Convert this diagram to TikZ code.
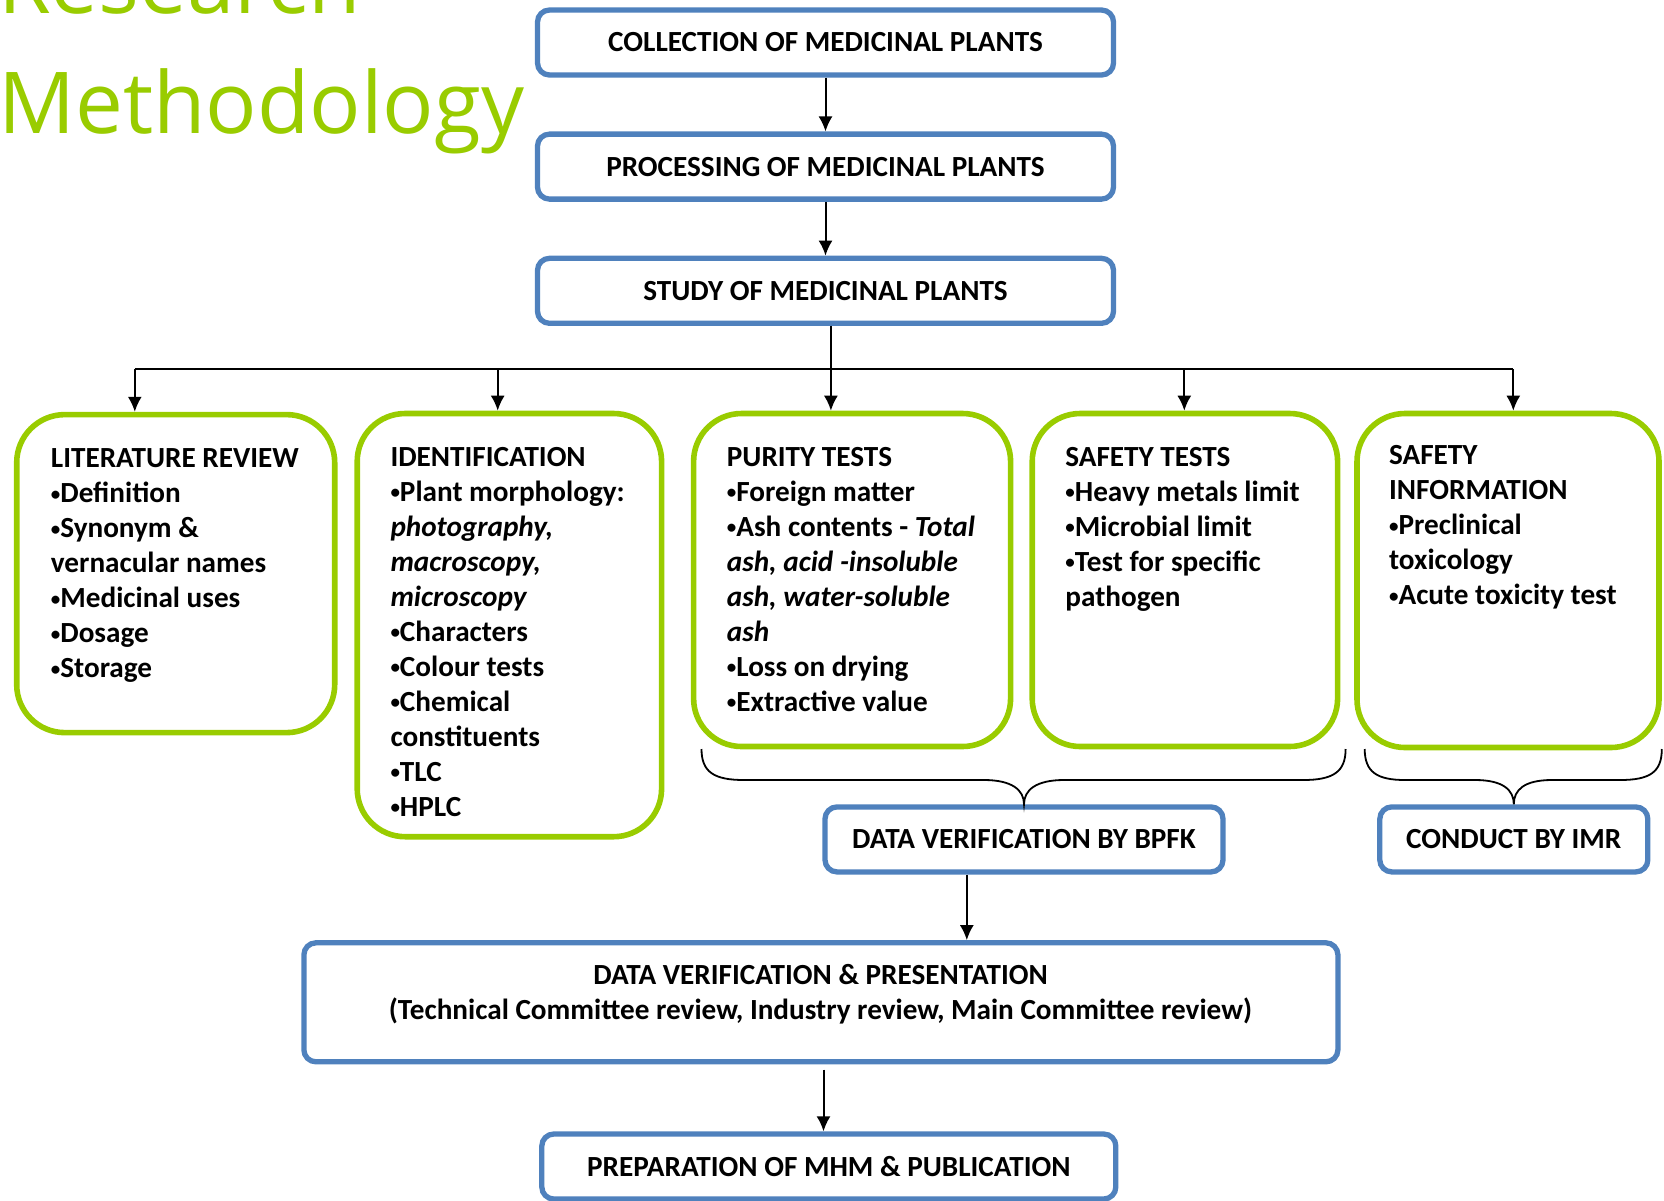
\documentclass[tikz,border=0pt]{standalone}
\usepackage{fontspec}
\setmainfont{Carlito}
\newfontfamily\titlefont{Open Sans}
\usetikzlibrary{arrows.meta}
\definecolor{boxblue}{HTML}{4F81BD}
\definecolor{leafgreen}{RGB}{153,204,0}
\newcommand\bul{\raisebox{1.3pt}{\fontsize{9.5}{9.5}\selectfont •}}
\tikzset{
  bluebox/.style={draw=boxblue, line width=2.65pt, rounded corners=6pt, fill=white, inner sep=0pt, font=\bfseries\fontsize{14.6}{17.5}\selectfont},
  greenbox/.style={draw=leafgreen, line width=2.8pt, rounded corners=24pt, inner sep=0pt},
  boxtext/.style={anchor=north west, inner sep=0pt, align=left, font=\bfseries\fontsize{14.6}{17.5}\selectfont},
  titletxt/.style={anchor=base west, inner sep=0pt, text=leafgreen, font=\titlefont\fontsize{42.7}{50}\selectfont},
  brace/.style={line width=0.9pt}
}
\begin{document}
\begin{tikzpicture}[x=0.5pt,y=-0.5pt,>={Latex[length=7.5pt,width=7pt]},line width=1pt]
\useasboundingbox (0,0) rectangle (1664,1200);
\clip (0,0) rectangle (1664,1200);
% title
\node[titletxt] (ttla) at (-3,13) {Research};
\node[titletxt] (ttlb) at (-3,133) {Methodology};

% main chain
\node[bluebox, minimum width=288pt, minimum height=32.5pt] (coll) at (825.5,42.5) {COLLECTION OF MEDICINAL PLANTS};
\node[bluebox, minimum width=288pt, minimum height=32.5pt] (proc) at (825.5,166.6) {PROCESSING OF MEDICINAL PLANTS};
\node[bluebox, minimum width=288pt, minimum height=32.5pt] (study) at (825.5,290.8) {STUDY OF MEDICINAL PLANTS};

% study areas
\node[greenbox, minimum width=159pt, minimum height=159pt] (lit) at (175.7,573.6) {};
\node[greenbox, minimum width=152.2pt, minimum height=211.6pt] (ident) at (509.4,625.1) {};
\node[greenbox, minimum width=158.5pt, minimum height=166.5pt] (purity) at (852.1,580) {};
\node[greenbox, minimum width=152.7pt, minimum height=166.5pt] (safet) at (1184.9,580) {};
\node[greenbox, minimum width=151pt, minimum height=167pt] (safei) at (1508,580.5) {};

\node[boxtext] (littxt) at (49.9,448) {LITERATURE REVIEW\\
  \bul Definition\\ \bul Synonym \&\\ vernacular names\\ \bul Medicinal uses\\ \bul Dosage\\ \bul Storage};
\node[boxtext] (identtxt) at (389.5,446) {IDENTIFICATION\\
  \bul Plant morphology:\\ \textit{photography,}\\ \textit{macroscopy,}\\ \textit{microscopy}\\
  \bul Characters\\ \bul Colour tests\\ \bul Chemical\\ constituents\\ \bul TLC\\ \bul HPLC};
\node[boxtext] (puritytxt) at (725.9,446) {PURITY TESTS\\
  \bul Foreign matter\\ \bul Ash contents - \textit{Total}\\ \textit{ash, acid -insoluble}\\
  \textit{ash, water-soluble}\\ \textit{ash}\\ \bul Loss on drying\\ \bul Extractive value};
\node[boxtext] (safettxt) at (1064.4,446) {SAFETY TESTS\\
  \bul Heavy metals limit\\ \bul Microbial limit\\ \bul Test for specific\\ pathogen};
\node[boxtext] (safeitxt) at (1388.1,444.8) {SAFETY\\ INFORMATION\\
  \bul Preclinical\\ toxicology\\ \bul Acute toxicity test};

% verification
\node[bluebox, minimum width=199pt, minimum height=32.5pt] (bpfk) at (1024,839.4) {DATA VERIFICATION BY BPFK};
\node[bluebox, minimum width=134pt, minimum height=32.5pt] (imr) at (1513.8,839.4) {CONDUCT BY IMR};
\node[bluebox, minimum width=517pt, minimum height=59.5pt] (pres) at (820.9,1002.3) {};
\node[boxtext, anchor=center, align=center] (prestxt) at (820.5,993.8) {DATA VERIFICATION \& PRESENTATION\\
  (Technical Committee review, Industry review, Main Committee review)};
\node[bluebox, minimum width=287pt, minimum height=32.5pt] (prep) at (828.8,1166.5) {PREPARATION OF MHM \& PUBLICATION};

% connectors
\coordinate (b1) at (134.8,369.3);
\coordinate (b2) at (497.7,369.3);
\coordinate (b3) at (830.9,369.3);
\coordinate (b4) at (1184.3,369.3);
\coordinate (b5) at (1513.3,369.3);
\draw[->] (coll) -- (proc);
\draw[->] (proc) -- (study);
\draw[->] (study.south -| b3) -- (b3 |- purity.north);
\draw (b1) -- (b5);
\foreach \b/\n in {b1/lit,b2/ident,b4/safet,b5/safei}
{
    \draw[->] (\b) -- (\b |- \n.north);
}
\draw[brace] (701.5,749) .. controls (701.5,772) and (714,780) .. (744,780) -- (984,780)
  .. controls (1012,780) and (1024,790) .. (bpfk.north)
  .. controls (1024,790) and (1036,780) .. (1064,780) -- (1303,780)
  .. controls (1333,780) and (1345.6,772) .. (1345.6,749);
\draw[brace] (1364.7,749) .. controls (1364.7,772) and (1377,780) .. (1405,780) -- (1475,780)
  .. controls (1503,780) and (1513.8,790) .. (imr.north)
  .. controls (1513.8,790) and (1524,780) .. (1552,780) -- (1620,780)
  .. controls (1650,780) and (1661.8,772) .. (1661.8,749);
\coordinate (dv) at (966.8,0);
\draw[->] (bpfk.south -| dv) -- (pres.north -| dv);
\coordinate (dp) at (823.5,1069.7);
\draw[->] (dp) -- (dp |- prep.north);
\end{tikzpicture}
\end{document}
